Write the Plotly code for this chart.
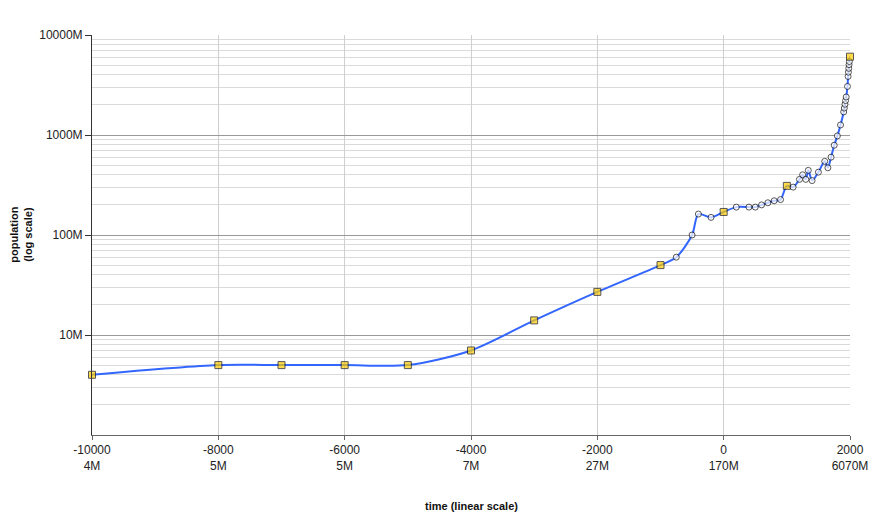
import plotly.graph_objects as go

# ---- data (population in millions) ----
years = [-10000, -8000, -7000, -6000, -5000, -4000, -3000, -2000, -1000, -750,
         -500, -400, -200, 0, 200, 400, 500, 600, 700, 800, 900, 1000, 1100,
         1200, 1250, 1300, 1340, 1400, 1500, 1600, 1650, 1700, 1750, 1800,
         1850, 1900, 1910, 1920, 1930, 1940, 1960, 1970, 1975, 1980, 1985,
         1990, 2000]
population = [4, 5, 5, 5, 5, 7, 14, 27, 50, 60,
              100, 162, 150, 170, 190, 190, 190, 200, 210, 220, 226, 310, 301,
              360, 400, 360, 443, 350, 425, 545, 470, 600, 790, 980,
              1260, 1700, 1860, 2030, 2210, 2400, 3060, 3850, 4250, 4640, 5050,
              5430, 6070]
key_years = [-10000, -8000, -7000, -6000, -5000, -4000, -3000, -2000, -1000,
             0, 1000, 2000]

x_tick_vals = [-10000, -8000, -6000, -4000, -2000, 0, 2000]
x_tick_pops = ["4M", "5M", "5M", "7M", "27M", "170M", "6070M"]
y_tick_vals = [10, 100, 1000, 10000]
y_tick_text = ["10M", "100M", "1000M", "10000M"]

# ---- styling derived from data ----
symbols = ["square" if y in key_years else "circle" for y in years]
fills = ["#FFCC00" if y in key_years else "#FFFFFF" for y in years]
sizes = [7 if y in key_years else 6 for y in years]
x_tick_text = [f"{v}<br>{p}" for v, p in zip(x_tick_vals, x_tick_pops)]
minor_vals = [m * d for d in [1, 10, 100, 1000] for m in range(2, 10)]

fig = go.Figure()
fig.add_trace(go.Scatter(
    x=years, y=population, mode="lines+markers",
    line=dict(color="#3366FF", width=2, shape="spline", smoothing=0.8),
    marker=dict(symbol=symbols, color=fills, size=sizes,
                line=dict(color="#111111", width=1)),
    cliponaxis=False, showlegend=False, hoverinfo="x+y",
))

font_family = "Liberation Sans, Arial, sans-serif"

fig.update_layout(
    width=877, height=511,
    margin=dict(l=84, r=35, t=27, b=84),
    paper_bgcolor="white", plot_bgcolor="white",
    font=dict(family=font_family, size=12, color="#222222"),
    xaxis=dict(
        range=[-10000, 2000], tickvals=x_tick_vals, ticktext=x_tick_text,
        showgrid=True, gridcolor="#CFCFCF", gridwidth=1,
        showline=True, linecolor="#666666", linewidth=1,
        ticks="outside", ticklen=4, tickcolor="#666666",
        zeroline=False, tickfont=dict(size=12, color="#222222"),
    ),
    yaxis=dict(
        type="log", range=[0, 4], tickvals=y_tick_vals, ticktext=y_tick_text,
        showgrid=True, gridcolor="#999999", gridwidth=1,
        showline=True, linecolor="#333333", linewidth=1,
        ticks="outside", ticklen=6, tickcolor="#333333",
        zeroline=False, tickfont=dict(size=12, color="#222222"),
        minor=dict(tickvals=minor_vals, showgrid=True, gridcolor="#DADADA",
                   gridwidth=1, ticks=""),
    ),
    annotations=[
        dict(text="<b>population<br>(log scale)</b>", textangle=-90,
             xref="paper", yref="paper", x=-0.094, y=0.5,
             xanchor="center", yanchor="middle", showarrow=False,
             font=dict(size=11, color="#111111")),
        dict(text="<b>time (linear scale)</b>",
             xref="paper", yref="paper", x=0.5, y=-0.1775,
             xanchor="center", yanchor="middle", showarrow=False,
             font=dict(size=11, color="#111111")),
    ],
)

fig.write_html("out.html")
